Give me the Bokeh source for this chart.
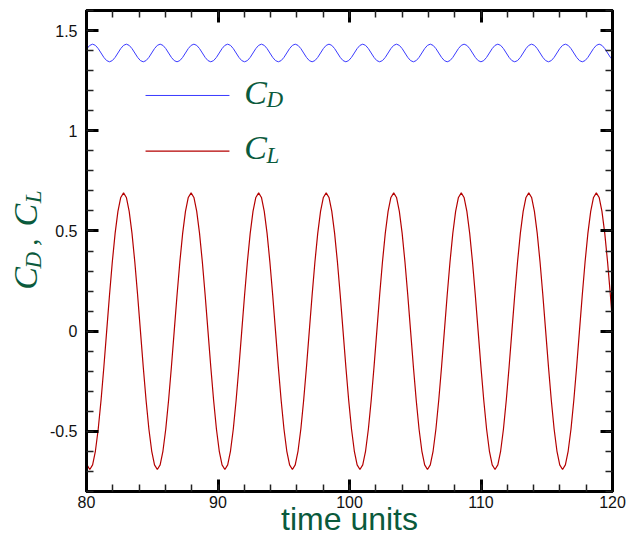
import math
from bokeh.plotting import figure
from bokeh.layouts import row
from bokeh.models import (Range1d, LinearAxis, SingleIntervalTicker, CustomJSTickFormatter, Label)
from bokeh.embed import file_html
from bokeh.resources import INLINE

# time samples (time units)
time = [
    79.822, 80.036, 80.250, 80.464, 80.678, 80.892, 81.106, 81.320, 81.534, 81.748, 81.962, 82.176,
    82.390, 82.604, 82.818, 83.032, 83.246, 83.460, 83.674, 83.888, 84.102, 84.316, 84.530, 84.744,
    84.958, 85.172, 85.386, 85.600, 85.814, 86.028, 86.242, 86.456, 86.670, 86.884, 87.098, 87.312,
    87.526, 87.740, 87.954, 88.168, 88.382, 88.596, 88.810, 89.024, 89.238, 89.452, 89.666, 89.880,
    90.094, 90.308, 90.522, 90.736, 90.950, 91.164, 91.378, 91.592, 91.806, 92.020, 92.234, 92.448,
    92.662, 92.876, 93.090, 93.304, 93.518, 93.732, 93.946, 94.160, 94.374, 94.588, 94.802, 95.016,
    95.230, 95.444, 95.658, 95.872, 96.086, 96.300, 96.514, 96.728, 96.942, 97.156, 97.370, 97.584,
    97.798, 98.012, 98.226, 98.440, 98.654, 98.868, 99.082, 99.296, 99.510, 99.724, 99.938, 100.152,
    100.366, 100.580, 100.794, 101.008, 101.222, 101.436, 101.650, 101.864, 102.078, 102.292, 102.506, 102.720,
    102.934, 103.148, 103.362, 103.576, 103.790, 104.004, 104.218, 104.432, 104.646, 104.860, 105.074, 105.288,
    105.502, 105.716, 105.930, 106.144, 106.358, 106.572, 106.786, 107.000, 107.214, 107.428, 107.642, 107.856,
    108.070, 108.284, 108.498, 108.712, 108.926, 109.140, 109.354, 109.568, 109.782, 109.996, 110.210, 110.424,
    110.638, 110.852, 111.066, 111.280, 111.494, 111.708, 111.922, 112.136, 112.350, 112.564, 112.778, 112.992,
    113.206, 113.420, 113.634, 113.848, 114.062, 114.276, 114.490, 114.704, 114.918, 115.132, 115.346, 115.560,
    115.774, 115.988, 116.202, 116.416, 116.630, 116.844, 117.058, 117.272, 117.486, 117.700, 117.914, 118.128,
    118.342, 118.556, 118.770, 118.984, 119.198, 119.412, 119.626, 119.840, 120.054,
]

# drag coefficient C_D
cd = [
    1.388, 1.410, 1.426,
    1.432, 1.426, 1.410, 1.388, 1.366, 1.350, 1.344, 1.350, 1.366, 1.388, 1.410, 1.426,
    1.432, 1.426, 1.410, 1.388, 1.366, 1.350, 1.344, 1.350, 1.366, 1.388, 1.410, 1.426,
    1.432, 1.426, 1.410, 1.388, 1.366, 1.350, 1.344, 1.350, 1.366, 1.388, 1.410, 1.426,
    1.432, 1.426, 1.410, 1.388, 1.366, 1.350, 1.344, 1.350, 1.366, 1.388, 1.410, 1.426,
    1.432, 1.426, 1.410, 1.388, 1.366, 1.350, 1.344, 1.350, 1.366, 1.388, 1.410, 1.426,
    1.432, 1.426, 1.410, 1.388, 1.366, 1.350, 1.344, 1.350, 1.366, 1.388, 1.410, 1.426,
    1.432, 1.426, 1.410, 1.388, 1.366, 1.350, 1.344, 1.350, 1.366, 1.388, 1.410, 1.426,
    1.432, 1.426, 1.410, 1.388, 1.366, 1.350, 1.344, 1.350, 1.366, 1.388, 1.410, 1.426,
    1.432, 1.426, 1.410, 1.388, 1.366, 1.350, 1.344, 1.350, 1.366, 1.388, 1.410, 1.426,
    1.432, 1.426, 1.410, 1.388, 1.366, 1.350, 1.344, 1.350, 1.366, 1.388, 1.410, 1.426,
    1.432, 1.426, 1.410, 1.388, 1.366, 1.350, 1.344, 1.350, 1.366, 1.388, 1.410, 1.426,
    1.432, 1.426, 1.410, 1.388, 1.366, 1.350, 1.344, 1.350, 1.366, 1.388, 1.410, 1.426,
    1.432, 1.426, 1.410, 1.388, 1.366, 1.350, 1.344, 1.350, 1.366, 1.388, 1.410, 1.426,
    1.432, 1.426, 1.410, 1.388, 1.366, 1.350, 1.344, 1.350, 1.366, 1.388, 1.410, 1.426,
    1.432, 1.426, 1.410, 1.388, 1.366, 1.350, 1.344, 1.350, 1.366, 1.388, 1.410, 1.426,
    1.432, 1.426, 1.410, 1.388, 1.366, 1.350,
]

# lift coefficient C_L
cl = [
    -0.598, -0.667,
    -0.690, -0.667, -0.598, -0.488, -0.345, -0.179, 0.000, 0.179, 0.345, 0.488, 0.598, 0.667,
    0.690, 0.667, 0.598, 0.488, 0.345, 0.179, 0.000, -0.179, -0.345, -0.488, -0.598, -0.667,
    -0.690, -0.667, -0.598, -0.488, -0.345, -0.179, 0.000, 0.179, 0.345, 0.488, 0.598, 0.667,
    0.690, 0.667, 0.598, 0.488, 0.345, 0.179, 0.000, -0.179, -0.345, -0.488, -0.598, -0.667,
    -0.690, -0.667, -0.598, -0.488, -0.345, -0.179, 0.000, 0.179, 0.345, 0.488, 0.598, 0.667,
    0.690, 0.667, 0.598, 0.488, 0.345, 0.179, 0.000, -0.179, -0.345, -0.488, -0.598, -0.667,
    -0.690, -0.667, -0.598, -0.488, -0.345, -0.179, 0.000, 0.179, 0.345, 0.488, 0.598, 0.667,
    0.690, 0.667, 0.598, 0.488, 0.345, 0.179, 0.000, -0.179, -0.345, -0.488, -0.598, -0.667,
    -0.690, -0.667, -0.598, -0.488, -0.345, -0.179, 0.000, 0.179, 0.345, 0.488, 0.598, 0.667,
    0.690, 0.667, 0.598, 0.488, 0.345, 0.179, 0.000, -0.179, -0.345, -0.488, -0.598, -0.667,
    -0.690, -0.667, -0.598, -0.488, -0.345, -0.179, 0.000, 0.179, 0.345, 0.488, 0.598, 0.667,
    0.690, 0.667, 0.598, 0.488, 0.345, 0.179, 0.000, -0.179, -0.345, -0.488, -0.598, -0.667,
    -0.690, -0.667, -0.598, -0.488, -0.345, -0.179, 0.000, 0.179, 0.345, 0.488, 0.598, 0.667,
    0.690, 0.667, 0.598, 0.488, 0.345, 0.179, 0.000, -0.179, -0.345, -0.488, -0.598, -0.667,
    -0.690, -0.667, -0.598, -0.488, -0.345, -0.179, 0.000, 0.179, 0.345, 0.488, 0.598, 0.667,
    0.690, 0.667, 0.598, 0.488, 0.345, 0.179, 0.000,
]

x_major_interval = 10
y_major_interval = 0.5
x_title = "time units"

GREEN = "#0a5a3c"
BLUE = "#3a3aff"
RED = "#b40000"
SERIF = "Liberation Serif"

# ---------------- main plot ----------------
p = figure(width=581, height=539, x_range=Range1d(80, 120), y_range=Range1d(-0.8, 1.6),
           output_backend="svg", toolbar_location=None,
           x_axis_type=None, y_axis_type=None,
           min_border_left=40, min_border_right=15, min_border_top=10, min_border_bottom=48)
p.outline_line_color = "black"
p.outline_line_width = 3
p.background_fill_color = "white"
p.border_fill_color = "white"

num_fmt = CustomJSTickFormatter(code="return (Math.round(tick*10)/10).toString()")
empty_fmt = CustomJSTickFormatter(code="return ''")


def make_axis(ticker, labelled, standoff):
    ax = LinearAxis(ticker=ticker,
                    axis_line_width=3, axis_line_color="black",
                    major_tick_in=12, major_tick_out=0, major_tick_line_width=3,
                    minor_tick_in=7, minor_tick_out=0, minor_tick_line_width=1.5,
                    minor_tick_line_color="#222222")
    if labelled:
        ax.formatter = num_fmt
        ax.major_label_text_font = "Liberation Sans"
        ax.major_label_text_font_size = "16px"
        ax.major_label_text_color = "#111111"
        ax.major_label_standoff = standoff
    else:
        ax.formatter = empty_fmt
        ax.major_label_text_font_size = "0px"
        ax.major_label_standoff = 0
    return ax


xaxis = make_axis(SingleIntervalTicker(interval=x_major_interval, num_minor_ticks=5), True, 4)
xaxis.axis_label = x_title
xaxis.axis_label_text_font = "Liberation Sans"
xaxis.axis_label_text_font_style = "normal"
xaxis.axis_label_text_font_size = "32px"
xaxis.axis_label_text_color = GREEN
xaxis.axis_label_standoff = -10
p.add_layout(xaxis, "below")
p.add_layout(make_axis(SingleIntervalTicker(interval=x_major_interval, num_minor_ticks=5), False, 0), "above")
p.add_layout(make_axis(SingleIntervalTicker(interval=y_major_interval, num_minor_ticks=5), True, 9), "left")
p.add_layout(make_axis(SingleIntervalTicker(interval=y_major_interval, num_minor_ticks=5), False, 0), "right")

p.line(time, cd, line_color=BLUE, line_width=1)
p.line(time, cl, line_color=RED, line_width=1.2)

# legend lines
p.segment(x0=[84.49], y0=[1.176], x1=[90.87], y1=[1.176], line_color=BLUE, line_width=1)
p.segment(x0=[84.49], y0=[0.898], x1=[90.87], y1=[0.898], line_color=RED, line_width=1.2)


def lab(fig, x, y, text, size, angle=0.0, align="left", font=SERIF, style="italic"):
    fig.add_layout(Label(x=x, y=y, text=text, text_font=font, text_font_style=style,
                         text_font_size=size, text_color=GREEN, angle=angle,
                         text_align=align, text_baseline="middle"))


# legend labels (anchor = vertical middle of the text)
lab(p, 92.0, 1.1924, "C", "34px")
lab(p, 93.69, 1.1564, "D", "23px")
lab(p, 92.0, 0.9144, "C", "34px")
lab(p, 93.69, 0.877, "L", "23px")

# ---------------- y-axis title strip ----------------
yl = figure(width=46, height=539, x_range=Range1d(0, 46), y_range=Range1d(0, 539),
            output_backend="svg", toolbar_location=None, x_axis_type=None, y_axis_type=None,
            min_border=0, min_border_left=0, min_border_right=0, min_border_top=0, min_border_bottom=0)
yl.outline_line_color = None
yl.border_fill_color = "white"
yl.background_fill_color = "white"
ang = math.pi / 2
lab(yl, 25.4, 226, "C", "34px", ang)
lab(yl, 33.2, 250, "D", "23px", ang)
lab(yl, 26.8, 275, ",", "30px", ang)
lab(yl, 25.4, 297, "C", "34px", ang)
lab(yl, 33.2, 323, "L", "23px", ang)

layout = row(yl, p, spacing=0)

open("out.html", "w").write(file_html(layout, INLINE))
